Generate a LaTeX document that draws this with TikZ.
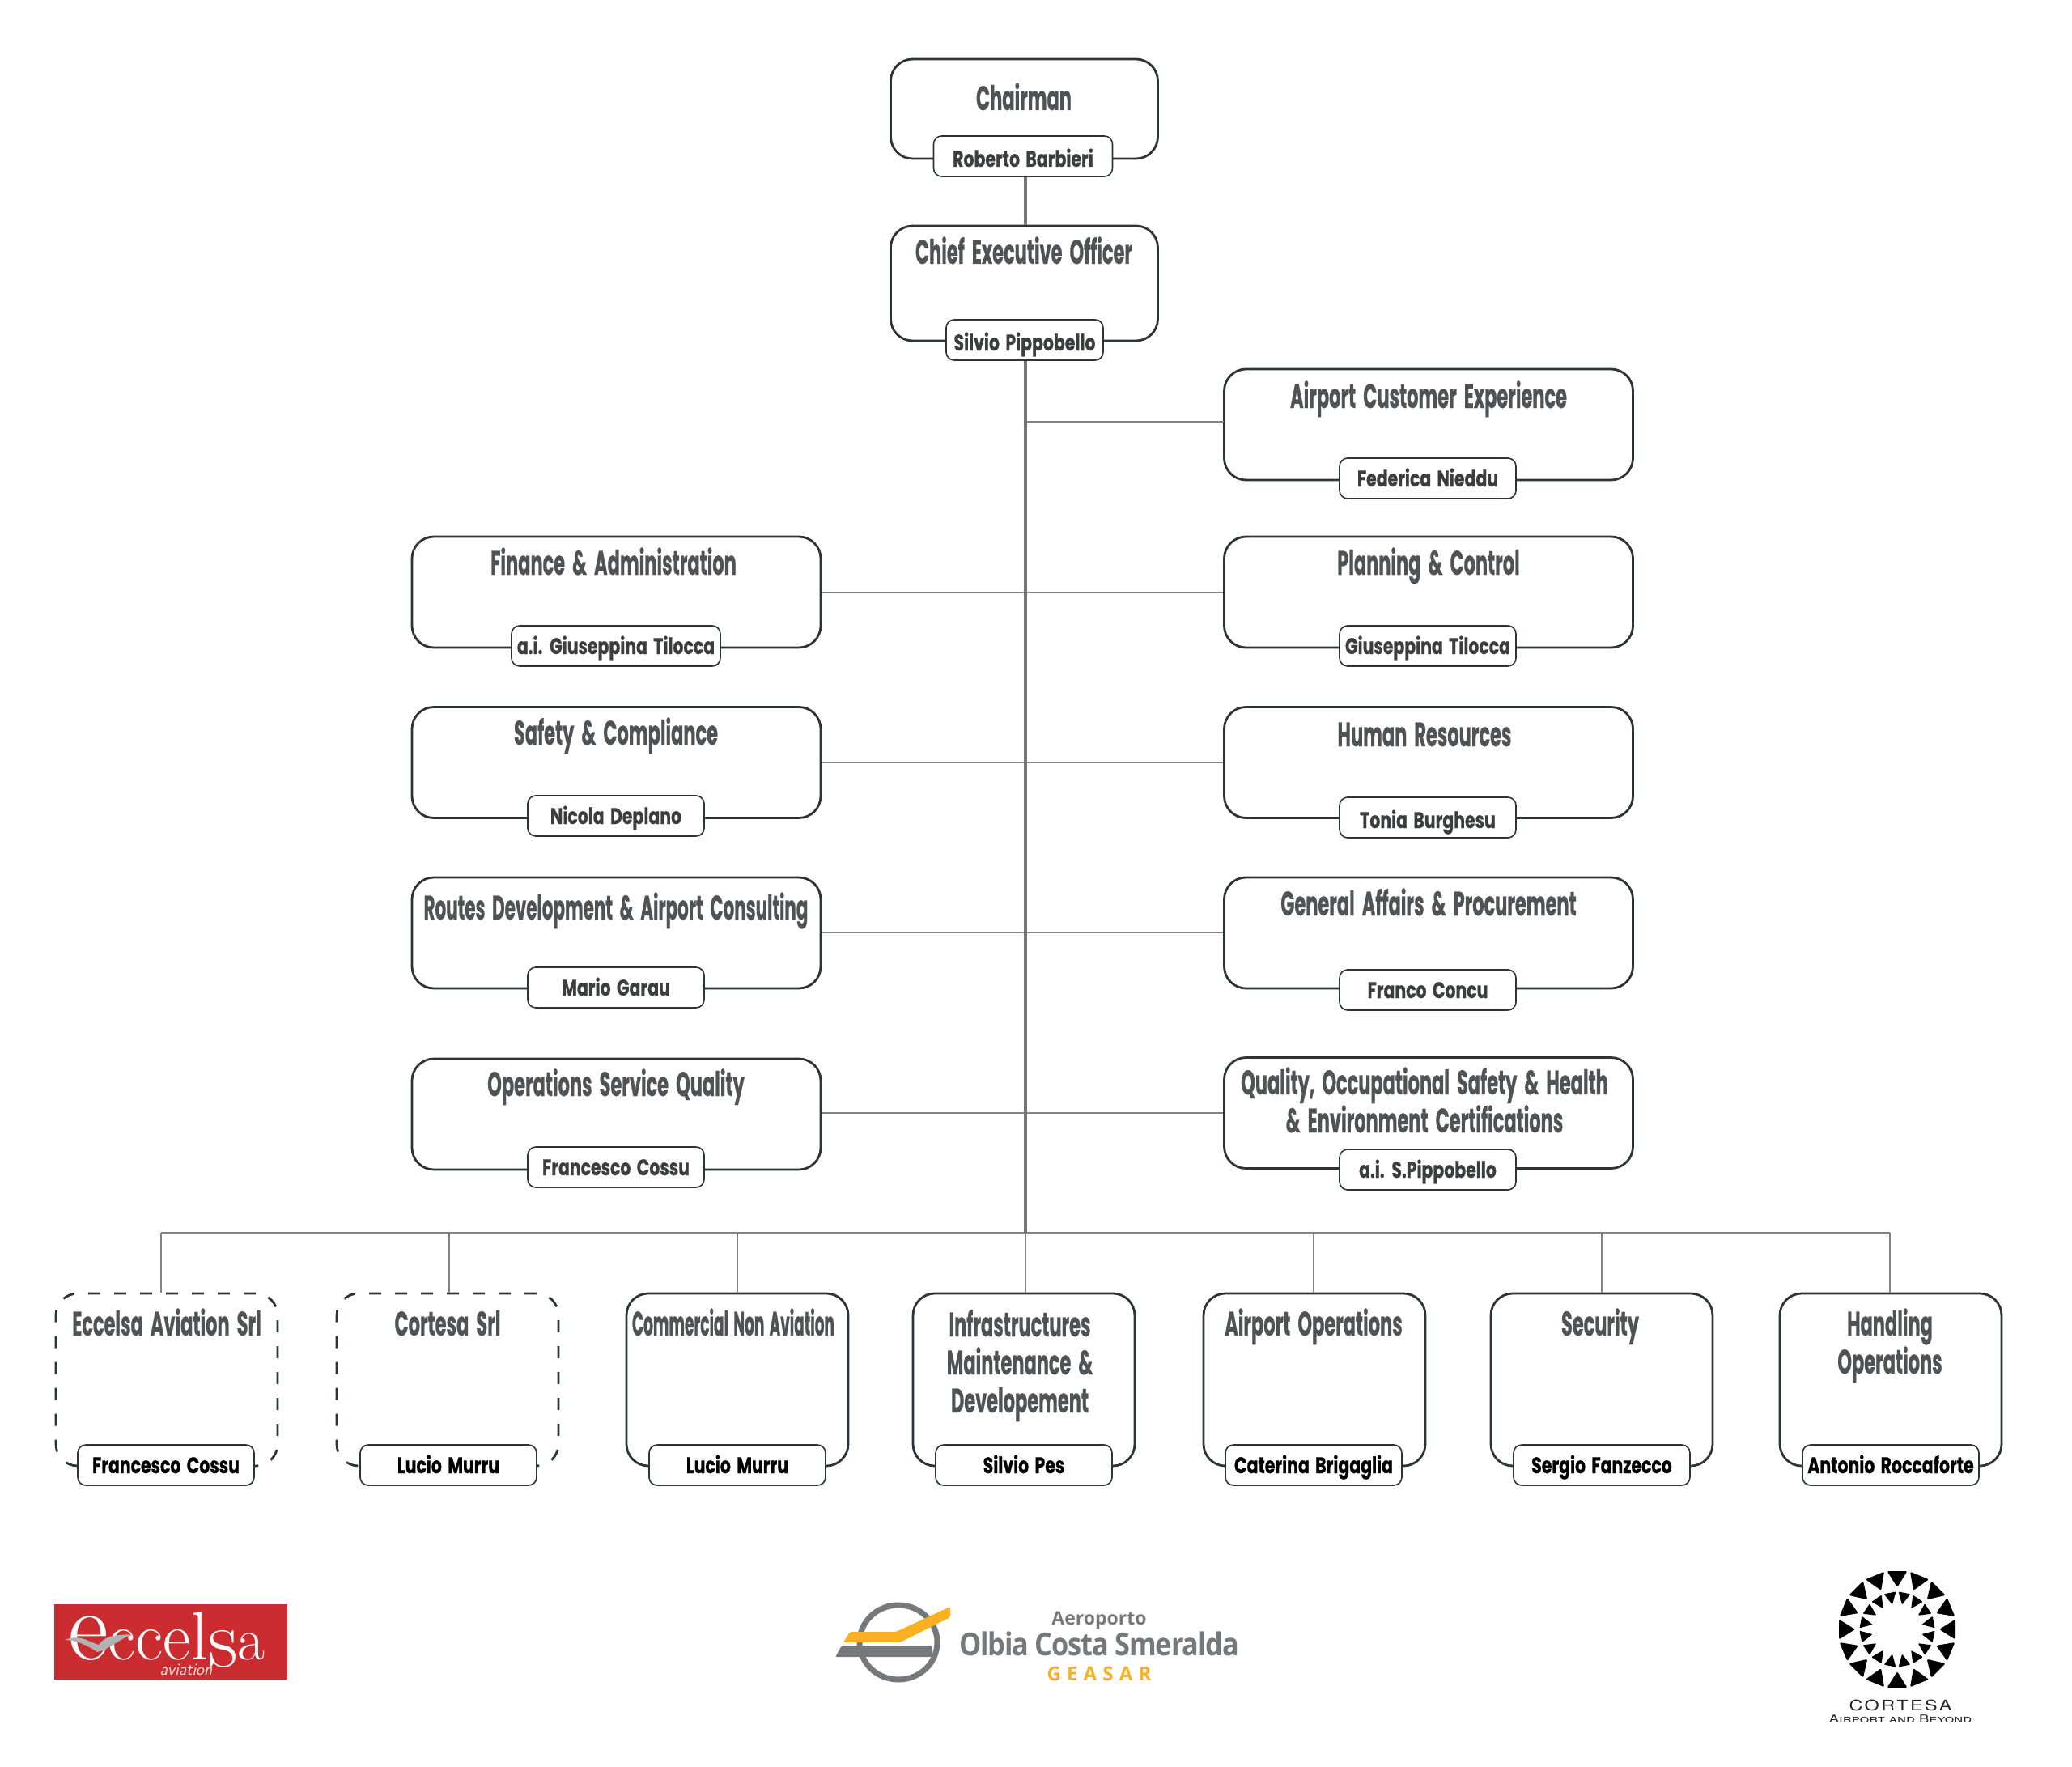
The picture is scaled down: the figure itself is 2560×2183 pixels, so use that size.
\documentclass[tikz,border=0pt]{standalone}
\usepackage{xcolor}
\usepackage{fontspec}
\newfontfamily\orgfont[FakeStretch=0.535,WordSpace=1.9,BoldFeatures={FakeBold=0.5}]{Poppins}
\newfontfamily\routefont[FakeStretch=0.51,WordSpace=1.9,BoldFeatures={FakeBold=0.5}]{Poppins}
\newfontfamily\comfont[FakeStretch=0.44,WordSpace=1.6,BoldFeatures={FakeBold=0.5}]{Poppins}
\newfontfamily\tagfont[FakeStretch=0.73,WordSpace=1.7,BoldFeatures={FakeBold=0.6}]{Poppins}
\newfontfamily\geasarfont{Open Sans}
\newfontfamily\olbiafont[FakeStretch=0.88]{Open Sans}
\newfontfamily\corfont[Letters=SmallCaps,FakeStretch=1.36]{TeX Gyre Heros}
\newfontfamily\corname[FakeStretch=1.3,LetterSpace=14]{TeX Gyre Heros}
\definecolor{titlegrey}{HTML}{505356}
\definecolor{tagink}{HTML}{3B3D3F}
\definecolor{boxline}{HTML}{2C3438}
\definecolor{spinegrey}{HTML}{6F7579}
\definecolor{branchgrey}{HTML}{808486}
\definecolor{logogold}{HTML}{FBB01F}
\definecolor{logogrey}{HTML}{75797C}
\definecolor{eccred}{HTML}{CB2C30}

\begin{document}
\begin{tikzpicture}[
  x=1pt,y=-1pt,
  box/.style={draw=boxline,line width=2.8pt,rounded corners=27pt,minimum height=137pt,inner sep=0pt},
  subbox/.style={box,dash pattern=on 15pt off 17pt,minimum width=274pt,minimum height=213pt},
  solidbox/.style={box,minimum width=274pt,minimum height=213pt},
  wide/.style={box,minimum width=505pt},
  top/.style={box,minimum width=330pt},
  title/.style={anchor=base,text=titlegrey,font=\orgfont\bfseries\fontsize{42}{47}\selectfont,align=center,inner sep=0pt},
  tag/.style={draw=boxline,fill=white,line width=1.6pt,rounded corners=10pt,minimum height=50pt,inner sep=0pt,
    text=tagink,font=\tagfont\bfseries\fontsize{28}{30}\selectfont,text height=22pt,text depth=2pt},
  low/.style={text height=27pt,text depth=1pt},
  subtag/.style={tag,minimum width=218pt,text=black},
  branch/.style={draw=branchgrey,line width=1.6pt},
  spine/.style={draw=spinegrey,line width=3.6pt}
]
  \path[use as bounding box,fill=white] (0,0) rectangle (2560,2183);

  \node[top,minimum height=123pt] (chair) at (1265.5,134.5) {};
  \node[top,minimum height=142pt] (ceo) at (1265.5,350) {};
  \node[wide] (ace) at (1765,524.5) {};
  \node[wide] (fin) at (761.5,731.5) {};
  \node[wide] (plan) at (1765,731.5) {};
  \node[wide] (safe) at (761.5,942) {};
  \node[wide] (hr) at (1765,942) {};
  \node[wide] (route) at (761.5,1152.5) {};
  \node[wide] (ga) at (1765,1152.5) {};
  \node[wide] (osq) at (761.5,1376.5) {};
  \node[wide] (qosh) at (1765,1375) {};
  \node[subbox] (ecc) at (206,1704.5) {};
  \node[subbox] (cor) at (553,1704.5) {};
  \node[solidbox] (com) at (911,1704.5) {};
  \node[solidbox] (inf) at (1265,1704.5) {};
  \node[solidbox] (apt) at (1624,1704.5) {};
  \node[solidbox] (sec) at (1979,1704.5) {};
  \node[solidbox] (han) at (2336,1704.5) {};

  \node[title] (chairT) at (1265,136) {Chairman};
  \node[title] (ceoT) at (1265,326) {Chief Executive Officer};
  \node[title] (aceT) at (1765,504) {Airport Customer Experience};
  \node[title] (finT) at (758,710) {Finance \& Administration};
  \node[title] (planT) at (1765,710) {Planning \& Control};
  \node[title] (safeT) at (761,920) {Safety \& Compliance};
  \node[title] (hrT) at (1760,922) {Human Resources};
  \node[title,font=\routefont\bfseries\fontsize{42}{47}\selectfont] (routeT) at (761,1136) {Routes Development \& Airport Consulting};
  \node[title] (gaT) at (1765,1131) {General Affairs \& Procurement};
  \node[title] (osqT) at (761,1354) {Operations Service Quality};
  \node[title] (qoshT) at (1760,1399) {Quality, Occupational Safety \& Health\\\& Environment Certifications};
  \node[title] (eccT) at (206,1650) {Eccelsa Aviation Srl};
  \node[title] (corT) at (553,1650) {Cortesa Srl};
  \node[title,font=\comfont\bfseries\fontsize{42}{47}\selectfont] (comT) at (906,1650) {Commercial Non Aviation};
  \node[title] (infT) at (1260,1745) {Infrastructures\\Maintenance \&\\Developement};
  \node[title] (aptT) at (1623,1650) {Airport Operations};
  \node[title] (secT) at (1977,1650) {Security};
  \node[title] (hanT) at (2335,1697) {Handling\\Operations};

  \node[tag,low,minimum width=221pt] (chairN) at (1264,193) {Roberto Barbieri};
  \node[tag,low,minimum width=194pt] (ceoN) at (1266,420) {Silvio Pippobello};
  \node[tag,minimum width=218pt] (aceN) at (1764,591) {Federica Nieddu};
  \node[tag,minimum width=258pt] (finN) at (761,798) {a.i. Giuseppina Tilocca};
  \node[tag,minimum width=218pt] (planN) at (1764,798) {Giuseppina Tilocca};
  \node[tag,minimum width=218pt] (safeN) at (761,1008) {Nicola Deplano};
  \node[tag,low,minimum width=218pt] (hrN) at (1764,1010) {Tonia Burghesu};
  \node[tag,minimum width=218pt] (routeN) at (761,1220) {Mario Garau};
  \node[tag,minimum width=218pt] (gaN) at (1764,1223) {Franco Concu};
  \node[tag,minimum width=218pt] (osqN) at (761,1442) {Francesco Cossu};
  \node[tag,minimum width=218pt] (qoshN) at (1764,1445) {a.i. S.Pippobello};

  \node[subtag] (eccN) at (205,1810) {Francesco Cossu};
  \node[subtag] (corN) at (554,1810) {Lucio Murru};
  \node[subtag] (comN) at (911,1810) {Lucio Murru};
  \node[subtag] (infN) at (1265,1810) {Silvio Pes};
  \node[subtag] (aptN) at (1623,1810) {Caterina Brigaglia};
  \node[subtag] (secN) at (1979,1810) {Sergio Fanzecco};
  \node[subtag] (hanN) at (2336,1810) {Antonio Roccaforte};

  \coordinate (busL) at (199,1523);
  \coordinate (busC) at (555,1523);
  \coordinate (busD) at (911,1523);
  \coordinate (busM) at (1267,1523);
  \coordinate (busE) at (1623,1523);
  \coordinate (busF) at (1979,1523);
  \coordinate (busR) at (2335,1523);
  \coordinate (aceJ) at (1512,521);

  \draw[branch] (aceJ) -- (aceJ -| busM);
  \draw[branch] (fin.east) -- (plan.west);
  \draw[branch] (safe.east) -- (hr.west);
  \draw[branch] (route.east) -- (ga.west);
  \draw[branch] (osq.east |- qosh.west) -- (qosh.west);
  \draw[branch] (busL) -- (busR);
  \draw[branch] (busL) -- (busL |- ecc.north);
  \draw[branch] (busC) -- (busC |- cor.north);
  \draw[branch] (busD) -- (busD |- com.north);
  \draw[branch] (busE) -- (busE |- apt.north);
  \draw[branch] (busF) -- (busF |- sec.north);
  \draw[branch] (busR) -- (busR |- han.north);
  \draw[spine] (chairN.south -| busM) -- (ceo.north -| busM);
  \draw[spine] (ceoN.south -| busM) -- (busM);
  \draw[branch] (busM) -- (busM |- inf.north);

  % eccelsa logo
  \fill[eccred] (67,1982) rectangle (355,2075);
  \node[anchor=base west,text=white,font=\rmfamily,inner sep=0pt] (eccLogo) at (84,2050)
    {\fontsize{122}{122}\selectfont e\fontsize{84}{84}\selectfont ccel\raisebox{-9pt}{\fontsize{102}{102}\selectfont s}\fontsize{74}{74}\selectfont a};
  \fill[gray!60] (80,2026) .. controls (100,2018) and (112,2030) .. (122,2032)
    .. controls (130,2020) and (145,2020) .. (164,2019) .. controls (145,2026) and (135,2038) .. (120,2041)
    .. controls (110,2034) and (95,2026) .. (80,2026);
  \node[text=white!85!eccred,font=\sffamily\itshape\fontsize{21}{21}\selectfont,inner sep=0pt] (eccSub) at (230,2063) {aviation};

  % olbia logo
  \draw[logogrey,line width=7pt] (1110,2029) ellipse [x radius=48,y radius=46];
  \fill[logogrey,rounded corners=2pt] (1032,2047) -- (1040,2033) -- (1152,2033) -- (1152,2047) -- cycle;
  \fill[logogold,rounded corners=2pt] (1042,2029) -- (1050,2016) -- (1107,2016) -- (1174,1985) -- (1174,1998) -- (1112,2029) -- cycle;
  \node[text=logogrey,font=\geasarfont\bfseries\fontsize{23}{23}\selectfont,inner sep=0pt] (oAer) at (1358,2002) {Aeroporto};
  \node[text=logogrey,font=\olbiafont\bfseries\fontsize{39}{39}\selectfont,inner sep=0pt] (oOlb) at (1358,2031) {\addfontfeature{LetterSpace=-3}Olbia Costa Smeralda};
  \node[text=logogold,font=\geasarfont\bfseries\fontsize{24}{24}\selectfont,inner sep=0pt] (oGea) at (1358,2068) {\addfontfeature{LetterSpace=30}GEASAR};

  % cortesa logo
  \begin{scope}[shift={(2344,2013)}]
    \foreach \a in {0,22.5,...,337.5}{
      \fill[black,rounded corners=1.5pt,rotate=\a] (72,-12.5) -- (72,12.5) -- (52,0) -- cycle;
      \fill[black,rounded corners=1pt,rotate=\a+11.25] (46,-7.5) -- (46,7.5) -- (31,0) -- cycle;
    }
  \end{scope}
  \node[text=black!85,font=\corname\fontsize{18}{18}\selectfont,inner sep=0pt] (corA) at (2348,2107) {CORTESA};
  \node[text=black!85,font=\corfont\fontsize{13.5}{13.5}\selectfont,inner sep=0pt] (corB) at (2348,2124) {Airport and Beyond};
\end{tikzpicture}
\end{document}
